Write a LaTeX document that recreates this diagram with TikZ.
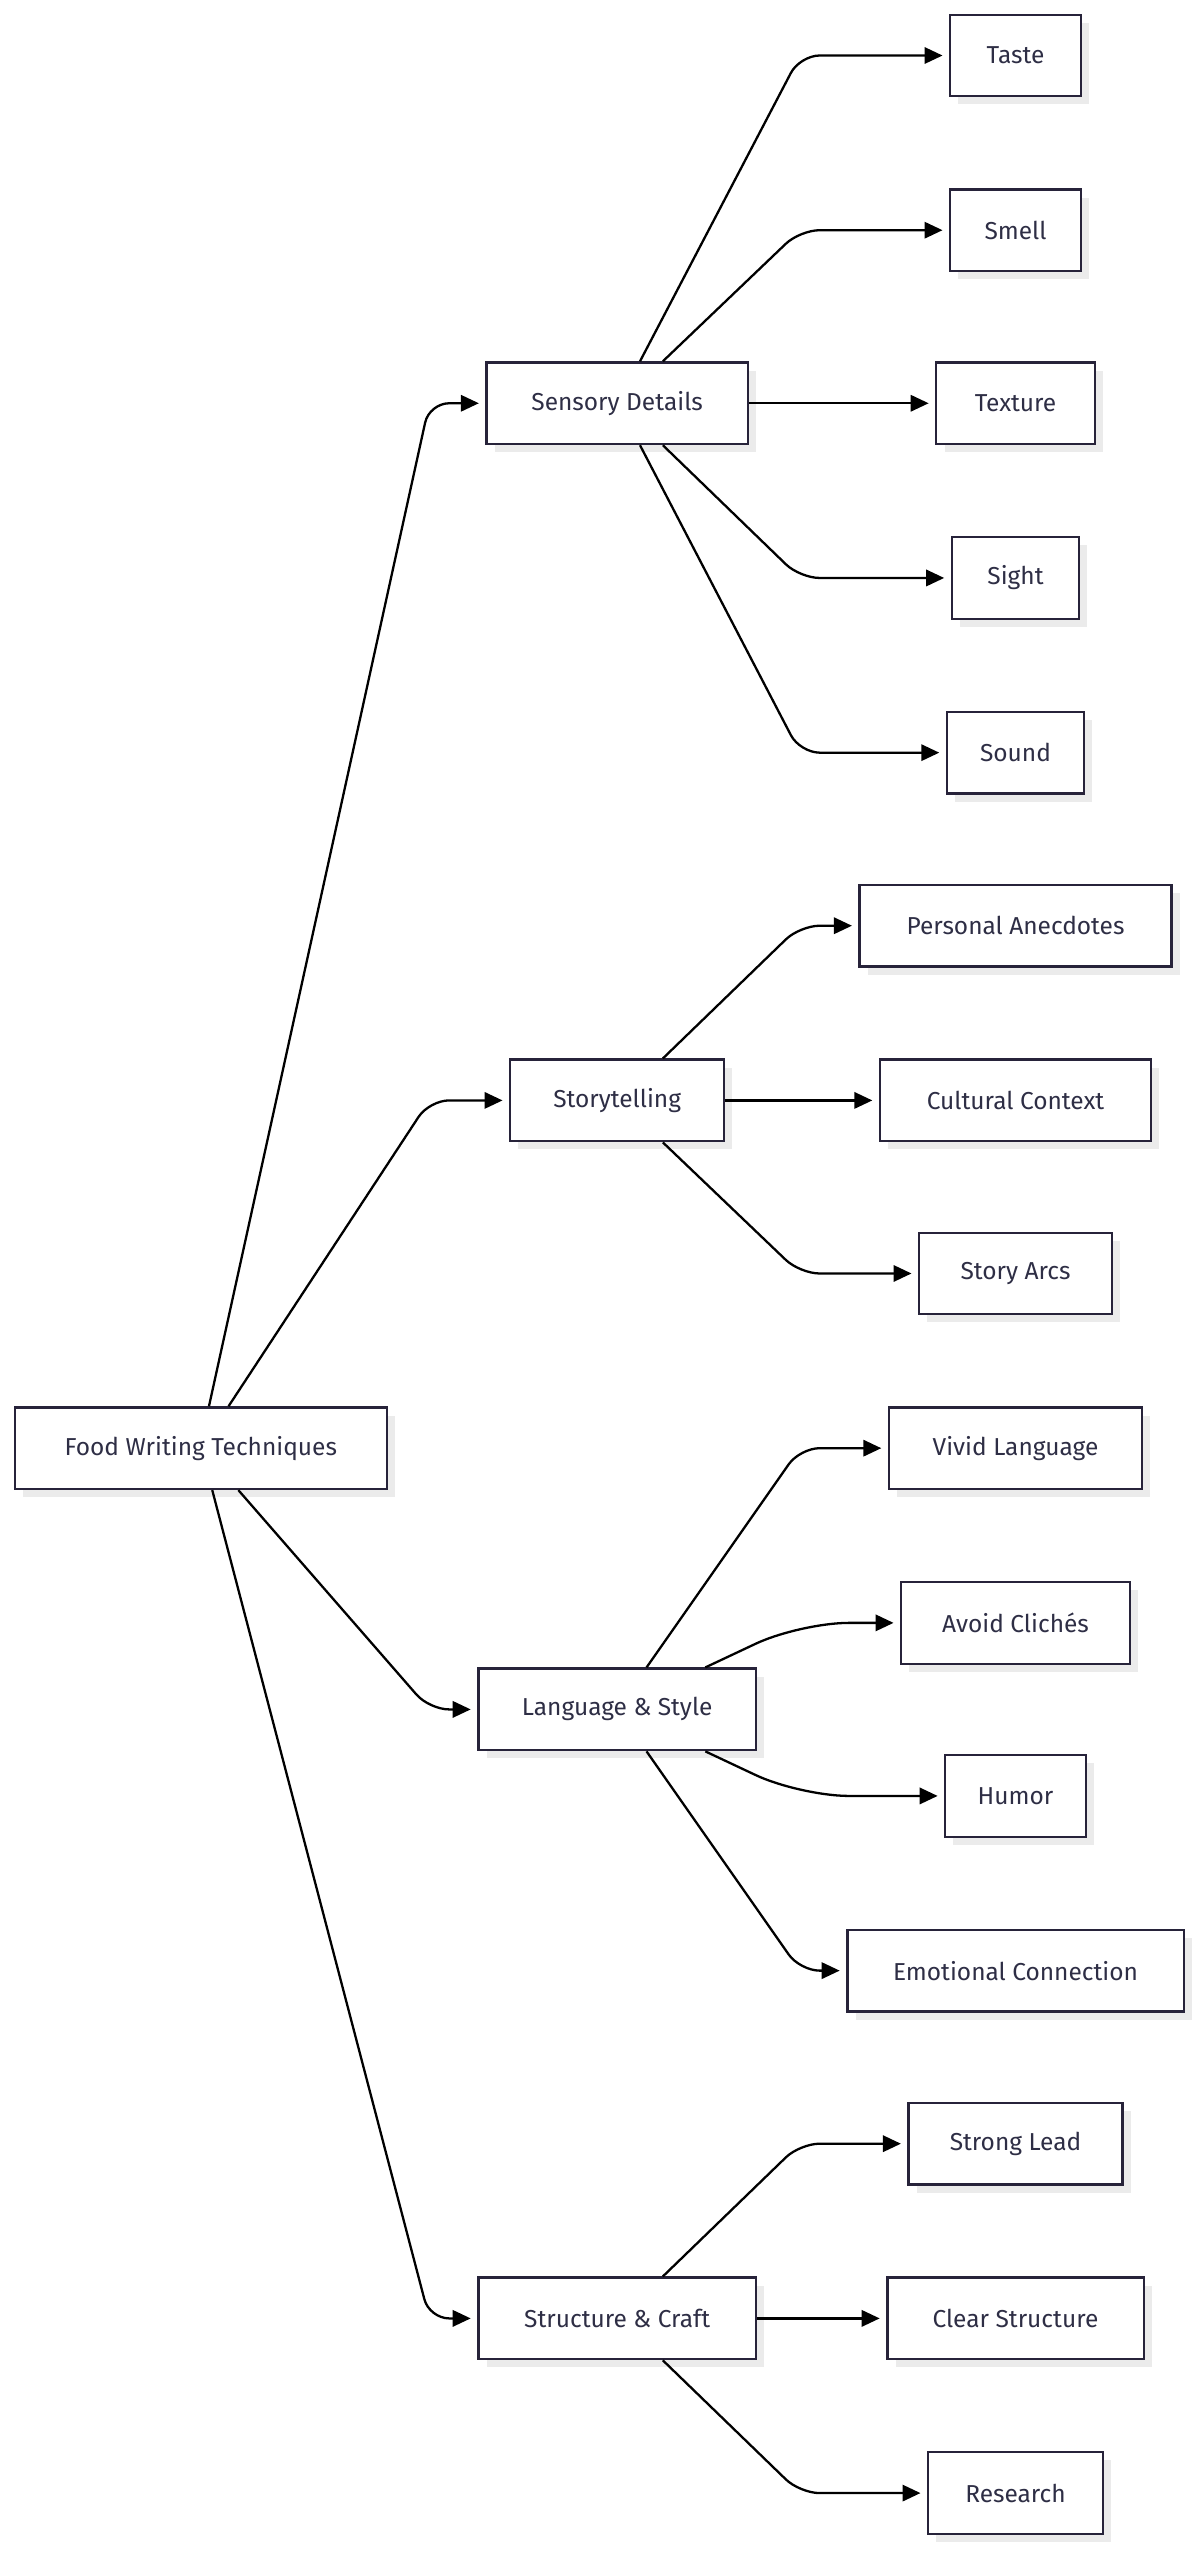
\documentclass[tikz,border=0pt]{standalone}
\usepackage{fontspec}
\setmainfont{Fira Sans}
\usetikzlibrary{arrows.meta}
\definecolor{txt}{HTML}{2E2E45}
\definecolor{bord}{HTML}{27233A}
\begin{document}
\begin{tikzpicture}[x=1pt,y=-1pt,
  box/.style={draw=bord,line width=1.4pt,fill=white,minimum height=50pt,text=txt,font=\fontsize{15}{18}\selectfont,inner sep=0pt,
    postaction={}, drop shadow/.style={}},
  sh/.style={fill=black!8,draw=none},
  e/.style={draw=black,line width=1.4pt,rounded corners=12pt,-{Triangle[length=11pt,width=10pt]}}]
\useasboundingbox (0,0) rectangle (737,1568);
\newcommand{\bx}[5]{%
  \fill[black!8] (#3-#4/2+5,#2-20) rectangle (#3+#4/2+5,#2+30);
  \node[box,minimum width=#4pt] (#1) at (#3,#2) {#5};}
\bx{root}{887}{123}{228}{Food Writing Techniques}
\bx{sens}{247}{378}{160}{Sensory Details}
\bx{story}{674}{378}{131}{Storytelling}
\bx{lang}{1047}{378}{170}{Language \& Style}
\bx{struc}{1420}{378}{170}{Structure \& Craft}
\bx{taste}{34}{622}{80}{Taste}
\bx{smell}{141}{622}{80}{Smell}
\bx{texture}{247}{622}{97}{Texture}
\bx{sight}{354}{622}{78}{Sight}
\bx{sound}{461}{622}{84}{Sound}
\bx{pers}{567}{622}{191}{Personal Anecdotes}
\bx{cult}{674}{622}{166}{Cultural Context}
\bx{arcs}{780}{622}{118}{Story Arcs}
\bx{vivid}{887}{622}{155}{Vivid Language}
\bx{avoid}{994}{622}{140}{Avoid Clichés}
\bx{humor}{1100}{622}{86}{Humor}
\bx{emo}{1207}{622}{206}{Emotional Connection}
\bx{lead}{1313}{622}{131}{Strong Lead}
\bx{clear}{1420}{622}{157}{Clear Structure}
\bx{res}{1527}{622}{107}{Research}
% root edges
\draw[e] ([xshift=5pt]root.north) -- (263,247) -- ([xshift=-4pt]sens.west);
\draw[e] ([xshift=17pt]root.north) -- (263,674) -- ([xshift=-4pt]story.west);
\draw[e] ([xshift=23pt]root.south) -- (263,1047) -- ([xshift=-4pt]lang.west);
\draw[e] ([xshift=7pt]root.south) -- (263,1420) -- ([xshift=-4pt]struc.west);
% sensory
\draw[e] ([xshift=14pt]sens.north) -- (490,34) -- ([xshift=-4pt]taste.west);
\draw[e] ([xshift=28pt]sens.north) -- (490,141) -- ([xshift=-4pt]smell.west);
\draw[e] (sens.east) -- ([xshift=-4pt]texture.west);
\draw[e] ([xshift=28pt]sens.south) -- (490,354) -- ([xshift=-4pt]sight.west);
\draw[e] ([xshift=14pt]sens.south) -- (490,461) -- ([xshift=-4pt]sound.west);
% story
\draw[e] ([xshift=28pt]story.north) -- (490,567) -- ([xshift=-4pt]pers.west);
\draw[e] (story.east) -- ([xshift=-4pt]cult.west);
\draw[e] ([xshift=28pt]story.south) -- (490,780) -- ([xshift=-4pt]arcs.west);
% lang
\draw[e] ([xshift=18pt]lang.north) -- (490,887) -- ([xshift=-4pt]vivid.west);
\draw[e,rounded corners=30pt] ([xshift=54pt]lang.north) -- (490,994) -- ([xshift=-4pt]avoid.west);
\draw[e,rounded corners=30pt] ([xshift=54pt]lang.south) -- (490,1100) -- ([xshift=-4pt]humor.west);
\draw[e] ([xshift=18pt]lang.south) -- (490,1207) -- ([xshift=-4pt]emo.west);
% struct
\draw[e] ([xshift=28pt]struc.north) -- (490,1313) -- ([xshift=-4pt]lead.west);
\draw[e] (struc.east) -- ([xshift=-4pt]clear.west);
\draw[e] ([xshift=28pt]struc.south) -- (490,1527) -- ([xshift=-4pt]res.west);
\end{tikzpicture}
\end{document}
